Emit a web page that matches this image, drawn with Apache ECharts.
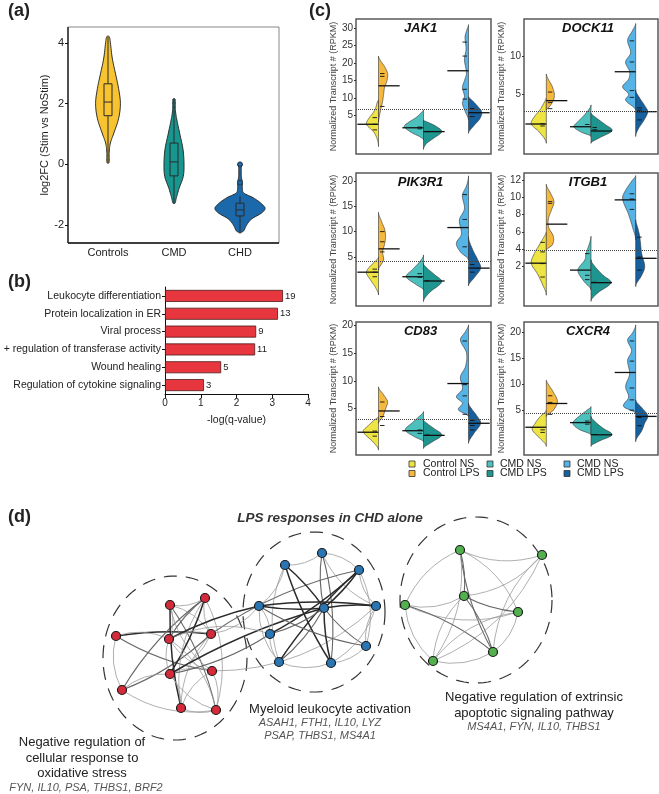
<!DOCTYPE html>
<html><head><meta charset="utf-8">
<script src="https://cdn.jsdelivr.net/npm/echarts@6/dist/echarts.min.js"></script>
<style>html,body{margin:0;padding:0;background:#fff}#c{width:659px;height:794px}</style>
</head><body><div id="c"></div>
<script>
// ---------- Panel (a) ----------
const aCategories = ['Controls', 'CMD', 'CHD'];
const aViolinControls = [[0.03,0],[0.05,0.04],[0.4,0.045],[0.7,0.09],[1.0,0.21],[1.5,0.4],[2.0,0.47],[2.5,0.4],[3.0,0.28],[3.5,0.16],[4.0,0.09],[4.2,0.05],[4.23,0]];
const aViolinCMD = [[-1.3,0],[-1.28,0.04],[-1.1,0.09],[-0.8,0.19],[-0.4,0.35],[0,0.38],[0.5,0.34],[1.0,0.22],[1.5,0.1],[1.8,0.05],[2.15,0.04],[2.17,0]];
const aViolinCHD = [[-2.27,0],[-2.2,0.13],[-2.0,0.25],[-1.8,0.44],[-1.6,0.82],[-1.45,0.95],[-1.3,0.82],[-1.1,0.5],[-0.95,0.15],[-0.8,0.09],[-0.6,0.09],[-0.4,0.05],[-0.1,0.05],[0,0.08],[0.07,0]];
const aBoxes = [[0.05,1.6,2.05,2.65,4.2],[-1.28,-0.38,0.08,0.7,2.15],[-2.25,-1.7,-1.5,-1.28,-1.05]];
const aOutliersCHD = [-0.6, 0.0];
const aTicks = [-2, 0, 2, 4];

// ---------- Panel (b) ----------
const bTerms = ['Leukocyte differentiation','Protein localization in ER','Viral process','+ regulation of transferase activity','Wound healing','Regulation of cytokine signaling'];
const bValues = [3.3, 3.16, 2.55, 2.52, 1.57, 1.09];
const bCounts = [19, 13, 9, 11, 5, 3];

// ---------- Panel (c) ----------
const cGroups = ['Control', 'CMD', 'CHD'];
const cGenes = ['JAK1','DOCK11','PIK3R1','ITGB1','CD83','CXCR4'];
const cLegendNS = ['Control NS', 'CMD NS', 'CMD NS'];
const cLegendLPS = ['Control LPS', 'CMD LPS', 'CMD LPS'];

const jak1NS = [
 [[-3.9,0],[-2,0.05],[0,0.2],[1,0.35],[2.5,0.6],[4,0.5],[5.5,0.3],[7,0.15],[9,0.05],[9.5,0]],
 [[-2,0],[-1,0.2],[0,0.55],[1.8,0.95],[3,0.75],[4.5,0.35],[6,0.08],[6.6,0]],
 [[3.7,0],[6,0.15],[8.5,0.3],[10.5,0.2],[13,0.3],[15,0.2],[17,0.1],[21,0.2],[24,0.12],[27.5,0.17],[29.5,0.08],[31,0]]];
const jak1LPS = [
 [[3,0],[5,0.05],[7,0.12],[9,0.2],[11,0.25],[13,0.3],[15,0.42],[17,0.45],[19,0.3],[20.5,0.12],[22,0]],
 [[-4.7,0],[-3,0.15],[-1.5,0.5],[0.4,0.9],[2,0.6],[3,0.25],[3.7,0]],
 [[-0.1,0],[2,0.25],[4,0.55],[6,0.65],[8,0.4],[9.5,0.15],[10.4,0]]];
const jak1MeanNS = [2.5, 1.5, 17.8];
const jak1MeanLPS = [13.5, 0.4, 5.8];
const jak1PtsNS = [[0.9,2.5,4.4],[1.2,1.7],[9.7,12.5,22,26]];
const jak1PtsLPS = [[7.6,16.2,17],[0.4],[4.7,7]];
const jak1Cut = 6.9;
const jak1Ticks = [5,10,15,20,25,30];

const dock11NS = [
 [[-1.5,0],[0,0.35],[1.06,0.75],[2,0.6],[3,0.3],[4.2,0.05],[4.5,0]],
 [[-0.6,0],[0,0.5],[0.7,0.85],[1.5,0.6],[2.5,0.25],[3.6,0]],
 [[2.9,0],[4.2,0.5],[5,0.35],[6,0.65],[7,0.35],[8,0.3],[9.3,0.5],[10.5,0.25],[12.2,0.4],[13.5,0.15],[14.4,0]]];
const dock11LPS = [
 [[2.9,0],[3.5,0.2],[4.7,0.4],[6,0.3],[7,0.1],[7.7,0]],
 [[-1.5,0],[-0.8,0.4],[0.18,1.05],[1,0.7],[2,0.2],[2.5,0]],
 [[-0.6,0],[0.5,0.15],[1.5,0.4],[2.7,0.6],[3.5,0.45],[4.5,0.2],[5.6,0]]];
const dock11MeanNS = [1.06, 0.7, 8];
const dock11MeanLPS = [4.16, 0.13, 2.7];
const dock11PtsNS = [[0.8,1.1],[1.0],[4.6,5.5,9.3,12.1]];
const dock11PtsLPS = [[3.1,3.9,5.3],[0.3,0.6],[1.6,2.9,3.2]];
const dock11Cut = 2.8;
const dock11Ticks = [5,10];

const pik3r1NS = [
 [[-2.5,0],[-1,0.15],[0.5,0.4],[1.9,0.6],[3,0.45],[4,0.2],[5,0]],
 [[-1.5,0],[-0.5,0.35],[1.1,0.85],[2.5,0.55],[4,0.2],[5.4,0]],
 [[4.4,0],[6,0.4],[7.7,0.6],[9.5,0.35],[12.3,0.45],[14.5,0.2],[17.2,0.3],[19,0.1],[21,0]]];
const pik3r1LPS = [
 [[2.4,0],[4.4,0.25],[6,0.2],[7.5,0.3],[9,0.35],[10.5,0.3],[12,0.15],[13.8,0]],
 [[-3.8,0],[-2,0.3],[0.1,0.9],[1.5,0.55],[2.7,0.2],[3.7,0]],
 [[-0.7,0],[1,0.3],[2.8,0.6],[4.5,0.45],[6.5,0.2],[9,0]]];
const pik3r1MeanNS = [2, 1.1, 10.8];
const pik3r1MeanLPS = [6.6, 0.26, 2.8];
const pik3r1PtsNS = [[1.1,2.0,2.6],[1.0,1.7],[7.0,12.4,17.3]];
const pik3r1PtsLPS = [[6,8,10],[0.3],[2.0,3.5]];
const pik3r1Cut = 4.1;
const pik3r1Ticks = [5,10,15,20];

const itgb1NS = [
 [[-1.3,0],[0,0.2],[1.2,0.45],[2.4,0.75],[3.5,0.6],[4.5,0.35],[5.5,0.1],[6,0]],
 [[-0.7,0],[0.3,0.35],[1.6,0.65],[2.8,0.3],[3.5,0.25],[4.5,0.1],[5.5,0]],
 [[5.1,0],[6.5,0.15],[8,0.35],[9.9,0.65],[11,0.45],[12,0.15],[12.5,0]]];
const itgb1LPS = [
 [[3.9,0],[4.5,0.3],[5.5,0.35],[6.5,0.12],[7.5,0.1],[8.5,0.25],[9.5,0.38],[10.5,0.2],[11.5,0]],
 [[-2,0],[-1,0.35],[0.15,1.0],[1,0.6],[2,0.2],[2.8,0]],
 [[-0.3,0],[1,0.3],[2,0.45],[3.5,0.3],[5.5,0.2],[6.5,0.1],[7.4,0]]];
const itgb1MeanNS = [2.4, 1.6, 9.7];
const itgb1MeanLPS = [6.9, 0.15, 2.96];
const itgb1PtsNS = [[0.8,2.35,3.7,4.8],[0.5,1.0,3.5],[8.6,9.8,10.4]];
const itgb1PtsLPS = [[9.3,9.5],[0.2],[1.6,3.1,5.4]];
const itgb1Cut = 3.9;
const itgb1Ticks = [2,4,6,8,10,12];

const cd83NS = [
 [[-2.4,0],[-1,0.25],[0.9,0.75],[2,0.5],[3,0.2],[3.6,0]],
 [[-0.9,0],[0,0.45],[1.2,0.9],[2.5,0.55],[3.5,0.25],[4.5,0]],
 [[3.6,0],[4.8,0.5],[6,0.3],[7.1,0.6],[8.5,0.3],[10.7,0.4],[12.5,0.15],[15,0.1],[17.3,0.4],[18.8,0.15],[20,0]]];
const cd83LPS = [
 [[2.4,0],[3.5,0.2],[5,0.35],[6.25,0.45],[7.5,0.25],[8.9,0]],
 [[-2.1,0],[-1,0.4],[0.3,0.9],[1.5,0.5],[2.3,0.2],[3,0]],
 [[-1.2,0],[0.5,0.25],[2.4,0.6],[3.8,0.4],[5,0.15],[6,0]]];
const cd83MeanNS = [0.8, 1.07, 9.5];
const cd83MeanLPS = [4.6, 0.24, 2.4];
const cd83PtsNS = [[0.1,1.0],[0.6,1.2],[4.0,7.3,9.3,17.1]];
const cd83PtsLPS = [[2.0,3.6,6.2],[0.3],[1.2,2.0,2.9]];
const cd83Cut = 3.15;
const cd83Ticks = [5,10,15,20];

const cxcr4NS = [
 [[-2,0],[-0.5,0.3],[1.2,0.7],[2.5,0.55],[3.8,0.3],[5,0]],
 [[0.2,0],[1.3,0.6],[2.5,0.9],[3.8,0.6],[5,0.2],[5.7,0]],
 [[4.4,0],[5.7,0.6],[7.5,0.35],[9.6,0.5],[12,0.3],[14.7,0.4],[16.5,0.2],[18.6,0.4],[20,0.15],[21.5,0]]];
const cxcr4LPS = [
 [[3.8,0],[5,0.35],[6.7,0.55],[8.5,0.35],[10,0.1],[10.8,0]],
 [[-2,0],[-1,0.4],[0.24,1.05],[1.5,0.6],[2.8,0.2],[3.8,0]],
 [[-1.1,0],[1,0.3],[2.5,0.45],[3.9,0.6],[5.5,0.3],[7,0]]];
const cxcr4MeanNS = [1.7, 2.6, 12.3];
const cxcr4MeanLPS = [6.3, 0.24, 3.8];
const cxcr4PtsNS = [[0.7,1.2],[2.3,2.9],[5.0,7.0,9.3,14.5,18.4]];
const cxcr4PtsLPS = [[4.2,6.5,7.8],[0.3],[2.0,3.6]];
const cxcr4Cut = 4.5;
const cxcr4Ticks = [5,10,15,20];

// ---------- Panel (d) ----------
const dNodes = [
 [116,156],[122,210],[170,125],[205,118],[169,159],[211,154],[170,194],[212,191],[181,228],[216,230],
 [285,85],[322,73],[359,90],[259,126],[324,128],[376,126],[270,154],[366,166],[279,182],[331,183],
 [460,70],[542,75],[464,116],[405,125],[518,132],[493,172],[433,181]];
const dNodeGroups = [0,0,0,0,0,0,0,0,0,0, 1,1,1,1,1,1,1,1,1,1, 2,2,2,2,2,2,2];
const dEdges = [
 [0,1,1],[0,5,3],[0,7,2],[0,4,1],[1,5,2],[1,6,1],[1,9,1],[1,3,2],
 [2,3,1],[2,4,1],[2,8,3],[2,9,2],[2,7,1],[2,5,1],
 [3,4,2],[3,6,3],[3,8,1],[3,9,1],[3,5,1],
 [4,5,1],[4,7,1],[4,9,1],[4,6,1],[5,6,1],[5,8,1],
 [6,7,1],[6,9,1],[6,8,1],[7,8,1],[7,9,1],[8,9,1],
 [4,13,3],[5,13,1],[6,14,3],[6,16,2],[5,12,2],[7,15,1],[4,16,1],
 [10,11,1],[10,14,3],[10,19,3],[10,13,1],[10,18,1],
 [11,12,1],[11,14,2],[11,19,2],[11,15,1],
 [12,14,3],[12,18,3],[12,16,3],[12,15,1],[12,17,1],
 [13,14,3],[13,15,3],[13,17,2],[13,16,1],[13,18,1],
 [14,15,3],[14,17,2],[14,18,2],[14,19,3],[14,16,2],
 [15,17,1],[15,19,1],[16,18,1],[17,19,1],[18,19,1],
 [20,22,2],[20,23,1],[20,24,1],[20,25,2],[20,26,1],[20,21,1],
 [21,22,1],[21,25,1],[21,26,1],
 [22,24,2],[22,25,2],[22,26,1],[22,23,1],
 [23,24,1],[23,25,2],[23,26,1],[24,25,1],[24,26,1],[25,26,1]];
const dClusterRings = [[175,178,72,82],[314,132,71,80],[476,120,76,83]];

// ---------- helpers / styles ----------
const FONT = '"Liberation Sans", Arial, sans-serif';
const aColors = ['#F7C331', '#17958F', '#1B69AA'];
const cNSColors = ['#EEE443', '#4CC0BD', '#55B3E5'];
const cLPSColors = ['#F5B93D', '#1E958F', '#17609E'];
const dColors = ['#D42A3A', '#2A75B3', '#52B04F'];

function densify(prof, n) {
  const out = [], m = prof.length;
  const tang = prof.map((p, k) => (k === 0 || k === m - 1) ? 0 :
    (prof[k + 1][1] - prof[k - 1][1]) / (prof[k + 1][0] - prof[k - 1][0]));
  for (let k = 0; k < m - 1; k++) {
    const [v0, d0] = prof[k], [v1, d1] = prof[k + 1], h = v1 - v0;
    for (let s = 0; s < n; s++) {
      const t = s / n, t2 = t * t, t3 = t2 * t;
      const d = (2*t3 - 3*t2 + 1) * d0 + (t3 - 2*t2 + t) * h * tang[k] + (-2*t3 + 3*t2) * d1 + (t3 - t2) * h * tang[k + 1];
      out.push([v0 + t * h, Math.max(0, d)]);
    }
  }
  out.push(prof[m - 1]);
  return out;
}

function makeViolinRender(profiles, boxes) {
  const dens = profiles.map(p => densify(p, 8));
  return function (params, api) {
    const i = api.value(0);
    const band = api.size([1, 0])[0];
    const scale = band * 0.4;
    const cx = api.coord([i, 0])[0];
    const y = v => api.coord([i, v])[1];
    const right = dens[i].map(p => [cx + p[1] * scale, y(p[0])]);
    const left = dens[i].map(p => [cx - p[1] * scale, y(p[0])]).reverse();
    const b = boxes[i], bw = 4, st = { stroke: '#2b2b2b', lineWidth: 1 };
    return { type: 'group', children: [
      { type: 'polygon', shape: { points: right.concat(left) }, style: { fill: aColors[i], stroke: '#2b2b2b', lineWidth: 1 } },
      { type: 'line', shape: { x1: cx, y1: y(b[0]), x2: cx, y2: y(b[1]) }, style: st },
      { type: 'line', shape: { x1: cx, y1: y(b[3]), x2: cx, y2: y(b[4]) }, style: st },
      { type: 'rect', shape: { x: cx - bw, y: y(b[3]), width: 2 * bw, height: y(b[1]) - y(b[3]) }, style: { fill: 'rgba(0,0,0,0)', stroke: '#2b2b2b', lineWidth: 1 } },
      { type: 'line', shape: { x1: cx - bw, y1: y(b[2]), x2: cx + bw, y2: y(b[2]) }, style: st }
    ] };
  };
}

function makeSplitRender(nsProf, lpsProf, meanNS, meanLPS, ptsNS, ptsLPS) {
  const dNS = nsProf.map(p => densify(p, 8));
  const dLPS = lpsProf.map(p => densify(p, 8));
  return function (params, api) {
    const i = api.value(0), side = api.value(1);
    const band = api.size([1, 0])[0];
    const scale = band * 0.45;
    const dir = side === 0 ? -1 : 1;
    const cx = api.coord([i, 0])[0];
    const prof = side === 0 ? dNS[i] : dLPS[i];
    const pts = prof.map(p => [cx + dir * p[1] * scale, api.coord([i, p[0]])[1]]);
    const children = [{ type: 'polygon', shape: { points: pts },
      style: { fill: side === 0 ? cNSColors[i] : cLPSColors[i], stroke: '#333', lineWidth: 0.6 } }];
    const mean = side === 0 ? meanNS[i] : meanLPS[i];
    const my = api.coord([i, mean])[1];
    children.push({ type: 'line', shape: { x1: cx, y1: my, x2: cx + dir * band * 0.47, y2: my }, style: { stroke: '#111', lineWidth: 1.3 } });
    (side === 0 ? ptsNS[i] : ptsLPS[i]).forEach(v => {
      const yy = api.coord([i, v])[1];
      children.push({ type: 'line', shape: { x1: cx + dir * 1.5, y1: yy, x2: cx + dir * 6, y2: yy }, style: { stroke: '#111', lineWidth: 0.9 } });
    });
    return { type: 'group', children };
  };
}

// ---------- layout of panel (c) ----------
const cSets = [
  [jak1NS, jak1LPS, jak1MeanNS, jak1MeanLPS, jak1PtsNS, jak1PtsLPS, jak1Cut, jak1Ticks],
  [dock11NS, dock11LPS, dock11MeanNS, dock11MeanLPS, dock11PtsNS, dock11PtsLPS, dock11Cut, dock11Ticks],
  [pik3r1NS, pik3r1LPS, pik3r1MeanNS, pik3r1MeanLPS, pik3r1PtsNS, pik3r1PtsLPS, pik3r1Cut, pik3r1Ticks],
  [itgb1NS, itgb1LPS, itgb1MeanNS, itgb1MeanLPS, itgb1PtsNS, itgb1PtsLPS, itgb1Cut, itgb1Ticks],
  [cd83NS, cd83LPS, cd83MeanNS, cd83MeanLPS, cd83PtsNS, cd83PtsLPS, cd83Cut, cd83Ticks],
  [cxcr4NS, cxcr4LPS, cxcr4MeanNS, cxcr4MeanLPS, cxcr4PtsNS, cxcr4PtsLPS, cxcr4Cut, cxcr4Ticks]];
const cGridRects = [
  { left: 356, top: 19, width: 135, height: 135 }, { left: 524, top: 19, width: 134, height: 135 },
  { left: 356, top: 173, width: 135, height: 133 }, { left: 524, top: 173, width: 134, height: 133 },
  { left: 356, top: 322, width: 135, height: 133 }, { left: 524, top: 322, width: 134, height: 133 }];
const cRanges = [[-6, 32.6], [-2.92, 15.0], [-4.67, 21.56], [-2.54, 12.8], [-3.27, 20.5], [-3.67, 22.07]];

const grids = [
  { left: 75, top: 27, width: 198, height: 216 },
  { left: 165, top: 287, width: 143, height: 107 },
  ...cGridRects.map(r => Object.assign({ show: true, borderColor: '#5a5a5a', borderWidth: 1.5 }, r)),
  { left: 0, top: 480, width: 659, height: 314 }];

const xAxes = [
  { gridIndex: 0, type: 'category', data: aCategories, axisLine: { show: false }, axisTick: { show: false },
    axisLabel: { fontSize: 11, color: '#222', margin: 4, fontFamily: FONT } },
  { gridIndex: 1, type: 'value', min: 0, max: 4, interval: 1, splitLine: { show: false },
    axisLine: { show: true, lineStyle: { color: '#111', width: 1 } }, axisTick: { show: true, length: 4, lineStyle: { color: '#111' } },
    axisLabel: { fontSize: 10, color: '#222', margin: 4, fontFamily: FONT },
    name: '-log(q-value)', nameLocation: 'middle', nameGap: 21, nameTextStyle: { fontSize: 10.5, color: '#222', fontFamily: FONT } },
  ...cGenes.map((g, k) => ({ gridIndex: k + 2, type: 'category', data: cGroups, show: false })),
  { gridIndex: 8, type: 'value', min: 0, max: 659, show: false }];

const yAxes = [
  { gridIndex: 0, type: 'value', min: -2.59, max: 4.52, offset: 7, splitLine: { show: false }, axisLine: { show: false },
    axisTick: { show: true, length: 3, customValues: aTicks, lineStyle: { color: '#111' } },
    axisLabel: { fontSize: 11, color: '#222', margin: 4, customValues: aTicks, fontFamily: FONT },
    name: 'log2FC (Stim vs NoStim)', nameLocation: 'middle', nameGap: 15, nameTextStyle: { fontSize: 11, color: '#222', fontFamily: FONT } },
  { gridIndex: 1, type: 'category', data: bTerms, inverse: true,
    axisLine: { show: true, lineStyle: { color: '#111', width: 1 } }, axisTick: { show: true, length: 3, alignWithLabel: true, lineStyle: { color: '#111' } },
    axisLabel: { fontSize: 10.5, color: '#222', margin: 4, fontFamily: FONT } },
  ...cGenes.map((g, k) => ({ gridIndex: k + 2, type: 'value', min: cRanges[k][0], max: cRanges[k][1],
    splitLine: { show: false }, axisLine: { show: false },
    axisTick: { show: true, length: 2, customValues: cSets[k][7], lineStyle: { color: '#333' } },
    axisLabel: { fontSize: 10, color: '#333', margin: 3, customValues: cSets[k][7], fontFamily: FONT },
    name: 'Normalized Transcript # (RPKM)', nameLocation: 'middle', nameGap: 16,
    nameTextStyle: { fontSize: 9, color: '#444', fontFamily: FONT } })),
  { gridIndex: 8, type: 'value', min: 0, max: 314, inverse: true, show: false }];

const series = [];
// panel a
series.push({ type: 'custom', xAxisIndex: 0, yAxisIndex: 0, data: aCategories.map((c, i) => [i, 0]),
  encode: { x: 0, y: 1 }, renderItem: makeViolinRender([aViolinControls, aViolinCMD, aViolinCHD], aBoxes), z: 2 });
series.push({ type: 'scatter', xAxisIndex: 0, yAxisIndex: 0, data: aOutliersCHD.map(v => ['CHD', v]), symbolSize: 5,
  itemStyle: { color: aColors[2], borderColor: '#2b2b2b', borderWidth: 1 }, z: 3 });
// panel b
series.push({ type: 'bar', xAxisIndex: 1, yAxisIndex: 1, data: bValues, barWidth: 12,
  itemStyle: { color: '#E8363E', borderColor: '#4a1a1a', borderWidth: 0.8 },
  label: { show: true, position: 'right', distance: 2, fontSize: 9.5, color: '#222', fontFamily: FONT,
    formatter: p => String(bCounts[p.dataIndex]) } });
// panel c
cGenes.forEach((g, k) => {
  const s = cSets[k];
  series.push({ type: 'custom', xAxisIndex: k + 2, yAxisIndex: k + 2,
    data: [[0,0],[0,1],[1,0],[1,1],[2,0],[2,1]], encode: { x: 0, y: 1 },
    renderItem: makeSplitRender(s[0], s[1], s[2], s[3], s[4], s[5]),
    markLine: { silent: true, symbol: ['none', 'none'], label: { show: false },
      lineStyle: { type: 'dotted', color: '#444', width: 1 }, data: [{ yAxis: s[6] }] } });
});
// panel d
series.push({ type: 'custom', xAxisIndex: 8, yAxisIndex: 8, data: dClusterRings, encode: { x: 0, y: 1 }, z: 1,
  renderItem: function (params, api) {
    const c = api.coord([api.value(0), api.value(1)]);
    const r = api.size([api.value(2), api.value(3)]);
    const pts = [];
    for (let k = 0; k <= 120; k++) { const a = k / 120 * Math.PI * 2; pts.push([c[0] + r[0] * Math.cos(a), c[1] + r[1] * Math.sin(a)]); }
    return { type: 'polyline', shape: { points: pts }, style: { fill: 'none', stroke: '#333', lineWidth: 1.2, lineDash: [13, 9] } };
  } });
const edgeStyles = { 1: { color: '#9a9a9a', width: 0.8 }, 2: { color: '#666', width: 1.1 }, 3: { color: '#2a2a2a', width: 1.5 } };
series.push({ type: 'graph', coordinateSystem: 'cartesian2d', xAxisIndex: 8, yAxisIndex: 8, z: 2,
  symbolSize: 9, edgeSymbol: ['none', 'none'], label: { show: false }, emphasis: { disabled: true },
  data: dNodes.map((p, k) => ({ value: p, itemStyle: { color: dColors[dNodeGroups[k]], borderColor: '#1a1a1a', borderWidth: 1.2 } })),
  links: dEdges.map((e, k) => ({ source: e[0], target: e[1],
    lineStyle: { color: edgeStyles[e[2]].color, width: edgeStyles[e[2]].width, opacity: 1, curveness: (k % 2 ? 0.2 : -0.2) / e[2] } })) });

// ---------- text & frame graphics ----------
const T = (x, y, text, font, fill, align) => ({ type: 'text', x: x, y: y, silent: true,
  style: { text: text, font: font, fill: fill || '#222', textAlign: align || 'center', align: align || 'center', textVerticalAlign: 'middle', verticalAlign: 'middle' } });
const graphics = [
  { type: 'rect', shape: { x: 68, y: 27, width: 211, height: 216 }, style: { fill: 'none', stroke: '#888', lineWidth: 1 }, silent: true },
  { type: 'line', shape: { x1: 68, y1: 27, x2: 68, y2: 243 }, style: { stroke: '#111', lineWidth: 1.3 }, silent: true },
  { type: 'line', shape: { x1: 68, y1: 243, x2: 279, y2: 243 }, style: { stroke: '#111', lineWidth: 1.3 }, silent: true },
  T(8, 11, '(a)', 'bold 18px ' + FONT, '#222', 'left'),
  T(8, 282, '(b)', 'bold 18px ' + FONT, '#222', 'left'),
  T(309, 11, '(c)', 'bold 18px ' + FONT, '#222', 'left'),
  T(8, 517, '(d)', 'bold 18px ' + FONT, '#222', 'left'),
  T(330, 518, 'LPS responses in CHD alone', 'bold italic 13.5px ' + FONT, '#333'),
  T(82, 742, 'Negative regulation of', '13px ' + FONT, '#222'),
  T(82, 758, 'cellular response to', '13px ' + FONT, '#222'),
  T(82, 773, 'oxidative stress', '13px ' + FONT, '#222'),
  T(86, 788, 'FYN, IL10, PSA, THBS1, BRF2', 'italic 11px ' + FONT, '#555'),
  T(330, 709, 'Myeloid leukocyte activation', '13px ' + FONT, '#222'),
  T(320, 723, 'ASAH1, FTH1, IL10, LYZ', 'italic 11px ' + FONT, '#555'),
  T(320, 736, 'PSAP, THBS1, MS4A1', 'italic 11px ' + FONT, '#555'),
  T(534, 697, 'Negative regulation of extrinsic', '13px ' + FONT, '#222'),
  T(534, 713, 'apoptotic signaling pathway', '13px ' + FONT, '#222'),
  T(534, 727, 'MS4A1, FYN, IL10, THBS1', 'italic 11px ' + FONT, '#555')
];
cGenes.forEach((g, k) => {
  const r = cGridRects[k];
  graphics.push(T(r.left + r.width / 2 - 3, r.top + 9, g, 'bold italic 13px ' + FONT, '#111'));
});
const legX = [[409, 423], [487, 500], [564, 577]];
[0, 1, 2].forEach(j => {
  graphics.push({ type: 'rect', shape: { x: legX[j][0], y: 461, width: 6, height: 6 }, style: { fill: cNSColors[j], stroke: '#333', lineWidth: 0.8 }, silent: true });
  graphics.push({ type: 'rect', shape: { x: legX[j][0], y: 470.5, width: 6, height: 6 }, style: { fill: cLPSColors[j], stroke: '#333', lineWidth: 0.8 }, silent: true });
  graphics.push(T(legX[j][1], 464, cLegendNS[j], '10.5px ' + FONT, '#222', 'left'));
  graphics.push(T(legX[j][1], 473.5, cLegendLPS[j], '10.5px ' + FONT, '#222', 'left'));
});

const chart = echarts.init(document.getElementById('c'), null, { renderer: 'canvas' });
chart.setOption({
  animation: false,
  backgroundColor: '#fff',
  textStyle: { fontFamily: FONT },
  grid: grids, xAxis: xAxes, yAxis: yAxes, series: series, graphic: graphics
});
</script></body></html>
